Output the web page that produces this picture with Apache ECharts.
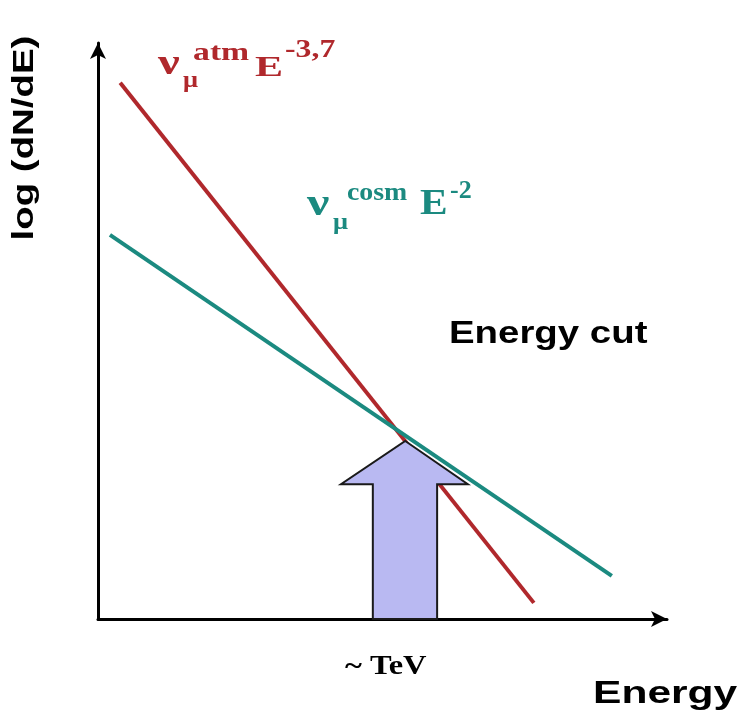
<!DOCTYPE html>
<html>
<head>
<meta charset="utf-8">
<script src="https://cdn.jsdelivr.net/npm/echarts@6/dist/echarts.min.js"></script>
<style>
  html, body { margin: 0; padding: 0; background: #fff; }
  #chart { width: 747px; height: 720px; }
</style>
</head>
<body>
<div id="chart"></div>
<script>
// schematic spectra, arbitrary units (log E vs log dN/dE)
const atmLine = [[3.9, 93.1], [76.6, 2.8]];
const cosmLine = [[2.1, 66.7], [90.3, 7.5]];

// energy cut arrow outline
const arrowX = [54.0, 65.0, 59.6, 59.6, 48.3, 48.3, 42.7];
const arrowY = [30.9, 23.4, 23.4, 0, 0, 23.4, 23.4];

const chart = echarts.init(document.getElementById('chart'));

const serif = '"Liberation Serif", "DejaVu Serif", serif';
const sans = '"Liberation Sans", Arial, sans-serif';
const red = '#b0282c';
const teal = '#1b8a80';

// text piece, x = left edge, y = em middle; sx stretches horizontally
function txt(x, y, text, size, color, family, sx) {
    return {
        type: 'text',
        x: x,
        y: y,
        scaleX: sx || 1,
        style: {
            text: text,
            font: 'bold ' + size + 'px ' + family,
            fill: color,
            verticalAlign: 'middle'
        }
    };
}

let option = {
    backgroundColor: '#fff',
    animation: false,
    grid: {
        left: 98,
        right: 80,
        top: 43,
        bottom: 101
    },
    xAxis: {
        type: 'value',
        min: 0,
        max: 100,
        axisLine: {
            lineStyle: { color: '#000', width: 3 },
            symbol: ['none', 'arrow'],
            symbolSize: [12, 16]
        },
        axisTick: { show: false },
        axisLabel: { show: false },
        splitLine: { show: false }
    },
    yAxis: {
        type: 'value',
        min: 0,
        max: 100,
        axisLine: {
            lineStyle: { color: '#000', width: 3 },
            symbol: ['none', 'arrow'],
            symbolSize: [12, 16]
        },
        axisTick: { show: false },
        axisLabel: { show: false },
        splitLine: { show: false }
    },
    series: [{
        type: 'line',
        data: atmLine,
        showSymbol: false,
        lineStyle: { color: red, width: 4 },
        z: 2
    }, {
        type: 'line',
        data: cosmLine,
        showSymbol: false,
        lineStyle: { color: teal, width: 4 },
        z: 2
    }, {
        type: 'custom',
        data: [0],
        z: 5,
        renderItem: (params, api) => {
            const pts = arrowX.map((x, i) => api.coord([x, arrowY[i]]));
            return {
                type: 'polygon',
                shape: { points: pts },
                style: { fill: '#b9b9f2', stroke: '#1a1a1a', lineWidth: 2 }
            };
        }
    }],
    graphic: [{
            type: 'text',
            x: 25,
            y: 138,
            rotation: Math.PI / 2,
            scaleX: 1.28,
            style: {
                text: 'log (dN/dE)',
                font: 'bold 30px ' + sans,
                fill: '#000',
                align: 'center',
                verticalAlign: 'middle'
            }
        },
        txt(449, 334, 'Energy cut', 32, '#000', sans, 1.2),
        txt(593, 694, 'Energy', 32, '#000', sans, 1.33),
        txt(345, 667, '~ TeV', 28, '#000', serif, 1.16),
        // atmospheric label
        txt(158, 65, 'ν', 36, red, serif, 1.35),
        txt(183, 81, 'μ', 24, red, serif, 1.1),
        txt(193, 54, 'atm', 25, red, serif, 1.35),
        txt(255, 68, 'E', 30, red, serif, 1.4),
        txt(285, 51, '-3,7', 25, red, serif, 1.27),
        // cosmic label
        txt(307, 205, 'ν', 37, teal, serif, 1.35),
        txt(333, 223, 'μ', 24, teal, serif, 1.1),
        txt(347, 193, 'cosm', 26, teal, serif, 1.07),
        txt(420, 205, 'E', 36, teal, serif, 1.15),
        txt(450, 191, '-2', 26, teal, serif, 1)
    ]
};

chart.setOption(option);
</script>
</body>
</html>
